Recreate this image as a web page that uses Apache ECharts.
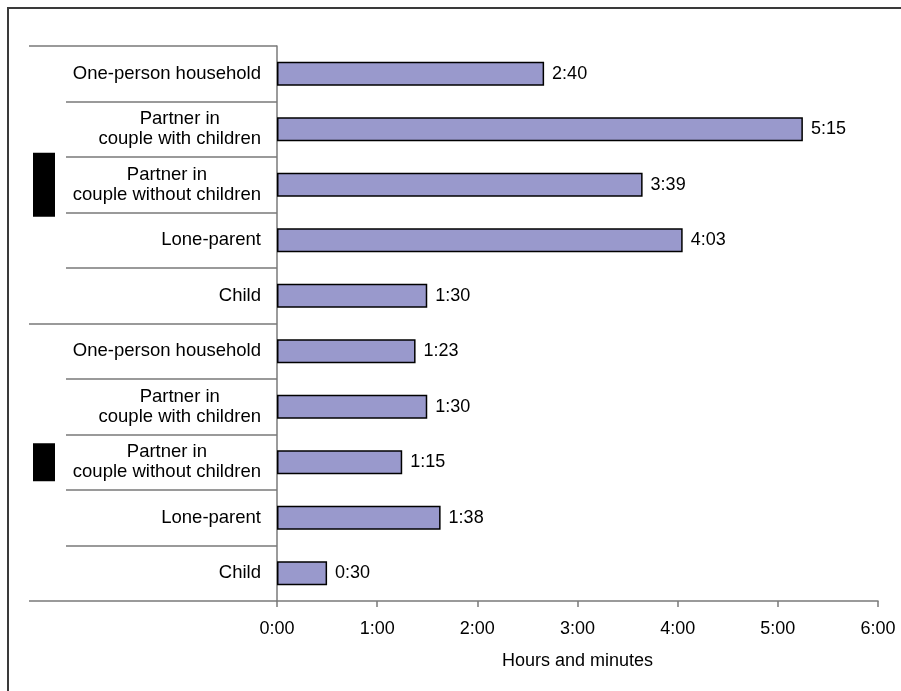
<!DOCTYPE html>
<html>
<head>
<meta charset="utf-8">
<script src="https://cdn.jsdelivr.net/npm/echarts@6/dist/echarts.min.js"></script>
<style>html,body{margin:0;padding:0;background:#fff;}#c{width:901px;height:691px;}</style>
</head>
<body>
<div id="c"></div>
<script>
const categories = [
  'One-person household',
  'Partner in\ncouple with children',
  'Partner in\ncouple without children',
  'Lone-parent',
  'Child',
  'One-person household',
  'Partner in\ncouple with children',
  'Partner in\ncouple without children',
  'Lone-parent',
  'Child'
];
// minutes
const values = [160, 315, 219, 243, 90, 83, 90, 75, 98, 30];
const groups = ['group1', 'group2'];
const xMin = 0, xMax = 360, xStep = 60;

function hm(m) {
  const h = Math.floor(m / 60);
  const mm = Math.round(m - h * 60);
  return h + ':' + (mm < 10 ? '0' : '') + mm;
}

const FONT = '"Liberation Sans", Arial, sans-serif';
const GRAY = '#7a7a7a';

const chart = echarts.init(document.getElementById('c'), null, {renderer: 'canvas'});
chart.setOption({
  animation: false,
  backgroundColor: '#fff',
  textStyle: {fontFamily: FONT},
  graphic: [{
    type: 'rect',
    shape: {x: 8, y: 8, width: 905, height: 700},
    style: {fill: 'none', stroke: '#3a3a3a', lineWidth: 2},
    silent: true
  }],
  grid: {left: 277, right: 23, top: 46, bottom: 90, containLabel: false},
  xAxis: {
    type: 'value',
    min: xMin, max: xMax, interval: xStep,
    name: 'Hours and minutes',
    nameLocation: 'middle',
    nameGap: 51,
    nameTextStyle: {fontSize: 18, color: '#000', fontFamily: FONT},
    axisLine: {show: true, lineStyle: {color: GRAY, width: 1.5}},
    axisTick: {show: true, length: 6, lineStyle: {color: GRAY, width: 1.5}},
    axisLabel: {fontSize: 18, color: '#000', margin: 19, formatter: v => hm(v), fontFamily: FONT},
    splitLine: {show: false}
  },
  yAxis: [{
    type: 'category',
    data: categories,
    inverse: true,
    position: 'left',
    axisLine: {show: true, lineStyle: {color: GRAY, width: 1.5}},
    axisTick: {show: true, length: 211, interval: 0, lineStyle: {color: GRAY, width: 1.5}},
    axisLabel: {
      interval: 0,
      margin: 16,
      formatter: v => v.split('\n').map(s => '{c|' + s + '}').join('\n'),
      rich: {c: {fontSize: 18.5, lineHeight: 20, align: 'center', color: '#000', fontFamily: FONT}}
    }
  }, {
    type: 'category',
    data: groups,
    inverse: true,
    position: 'left',
    offset: 0,
    axisLine: {show: false},
    axisTick: {show: true, length: 248, interval: 0, lineStyle: {color: GRAY, width: 1.5}},
    axisLabel: {
      interval: 0,
      margin: 222,
      formatter: (v, i) => i === 0 ? '{a| }' : '{b| }',
      rich: {
        a: {width: 22, height: 64, backgroundColor: '#000'},
        b: {width: 22, height: 38, backgroundColor: '#000'}
      }
    }
  }],
  series: [{
    type: 'bar',
    yAxisIndex: 0,
    data: values,
    barWidth: 24,
    itemStyle: {color: '#9999CC', borderColor: '#000', borderWidth: 1.5},
    label: {
      show: true, position: 'right', distance: 8,
      fontSize: 18, color: '#000', fontFamily: FONT,
      formatter: p => hm(p.value)
    }
  }]
});
</script>
</body>
</html>
